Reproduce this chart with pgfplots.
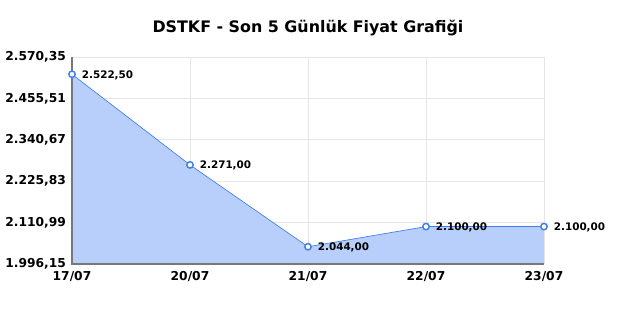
\documentclass[border=0pt]{standalone}
\usepackage{pgfplots}
\pgfplotsset{compat=1.18}
\usepackage{fontspec}
\setmainfont{DejaVu Sans}
\definecolor{lineblue}{RGB}{66,126,234}
\definecolor{fillblue}{RGB}{183,207,250}
\definecolor{gridgray}{RGB}{230,230,230}
\definecolor{axgray}{RGB}{120,120,120}
\begin{document}
\begin{tikzpicture}[x=1pt,y=1pt]
\begin{axis}[
  scale only axis,
  width=354pt, height=155.25pt,
  xmin=0, xmax=4,
  ymin=1996.15, ymax=2570.35,
  xtick={0,1,2,3,4},
  xticklabels={17/07,20/07,21/07,22/07,23/07},
  ytick={1996.15,2110.99,2225.83,2340.67,2455.51,2570.35},
  /pgf/number format/assume math mode=true,
  yticklabel style={/pgf/number format/fixed,/pgf/number format/fixed zerofill,/pgf/number format/precision=2,/pgf/number format/use comma,/pgf/number format/1000 sep={.},xshift=-1pt},
  scaled y ticks=false,
  tick label style={font=\bfseries\fontsize{9.2}{11}\selectfont, text=black},
  xticklabel style={yshift=-2pt},
  grid=major,
  major grid style={gridgray, line width=0.6pt},
  axis line style={draw=none},
  tick style={draw=none},
  clip=false,
  title={\bfseries\fontsize{11.9}{13}\selectfont DSTKF - Son 5 Günlük Fiyat Grafiği},
  title style={yshift=6pt},
]
\addplot[fill=fillblue, draw=none] coordinates {(0,2522.50) (1,2271.00) (2,2044.00) (3,2100.00) (4,2100.00)} \closedcycle;
\draw[axgray, line width=0.8pt] (axis cs:0,2570.35) -- (axis cs:0,1996.15) -- (axis cs:4,1996.15);
\addplot[lineblue, line width=0.5pt, mark=*, mark size=2.4pt,
  mark options={fill=white, draw=lineblue, line width=1.1pt},
  nodes near coords={\pgfmathprintnumber[fixed,fixed zerofill,precision=2,use comma,1000 sep={.},assume math mode=true]{\pgfplotspointmeta}},
  point meta=explicit,
  every node near coord/.style={anchor=west, xshift=3.5pt, yshift=-0.5pt, font=\bfseries\fontsize{7.8}{9}\selectfont, text=black}]
  coordinates {(0,2522.50)[2522.50] (1,2271.00)[2271.00] (2,2044.00)[2044.00] (3,2100.00)[2100.00] (4,2100.00)[2100.00]};
\end{axis}
\pgfresetboundingbox
\useasboundingbox ([xshift=-54pt,yshift=-42pt]current axis.south west) rectangle ++(480pt,240pt);
\end{tikzpicture}
\end{document}
